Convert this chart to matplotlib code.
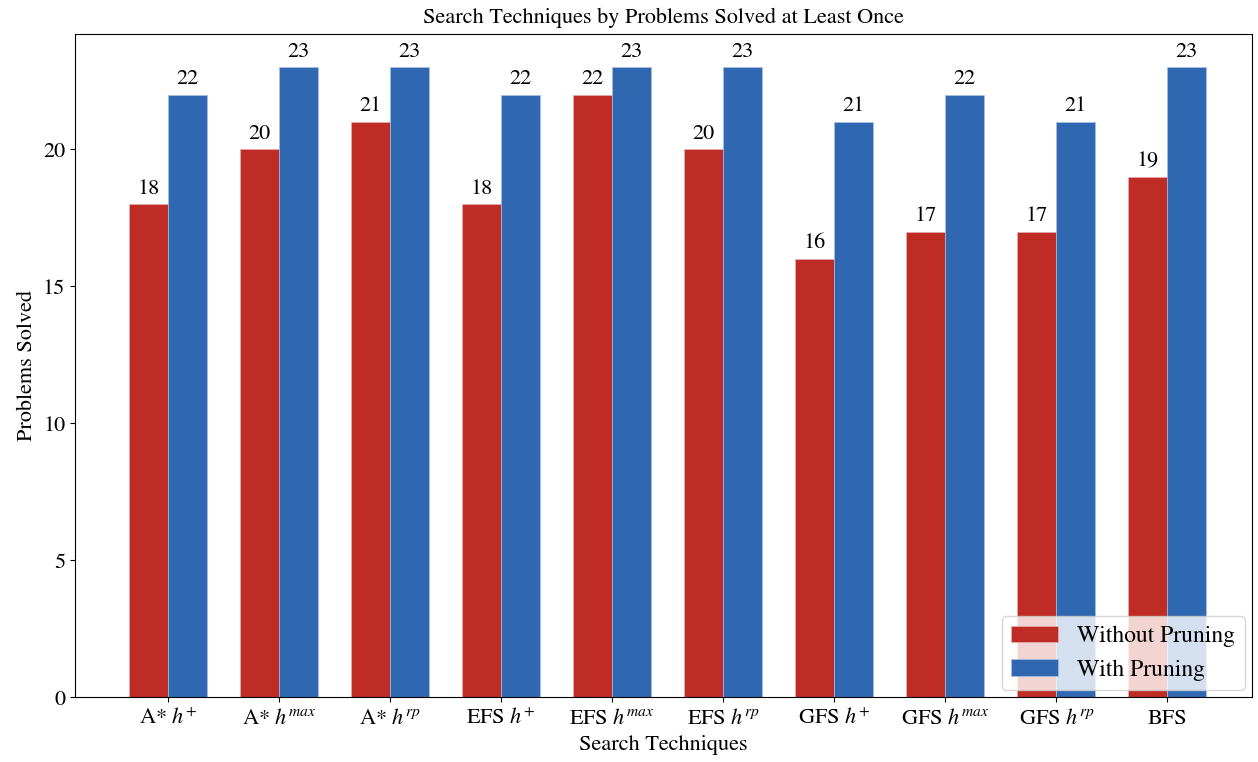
import matplotlib
matplotlib.use('Agg')
import matplotlib.pyplot as plt
import numpy as np

plt.rcParams['font.family'] = ['STIXGeneral', 'DejaVu Serif']
plt.rcParams['mathtext.fontset'] = 'stix'

techniques = ['A* $h^{+}$', 'A* $h^{max}$', 'A* $h^{rp}$',
              'EFS $h^{+}$', 'EFS $h^{max}$', 'EFS $h^{rp}$',
              'GFS $h^{+}$', 'GFS $h^{max}$', 'GFS $h^{rp}$', 'BFS']
without_pruning = [18, 20, 21, 18, 22, 20, 16, 17, 17, 19]
with_pruning = [22, 23, 23, 22, 23, 23, 21, 22, 21, 23]

red = '#bf2c25'
blue = '#2f68b1'

x = np.arange(len(techniques))
w = 0.35

fig, ax = plt.subplots(figsize=(12.58, 7.62), dpi=100)
fig.subplots_adjust(left=0.0596, right=0.995, top=0.955, bottom=0.085)

b1 = ax.bar(x - w / 2, without_pruning, w, color=red, edgecolor='#e8b0ac', linewidth=0.5, label='Without Pruning')
b2 = ax.bar(x + w / 2, with_pruning, w, color=blue, edgecolor='#a8c0e0', linewidth=0.5, label='With Pruning')
ax.bar_label(b1, padding=4, fontsize=16)
ax.bar_label(b2, padding=4, fontsize=16)

ax.set_xticks(x)
ax.set_xticklabels(techniques, fontsize=16)
ax.tick_params(axis='y', labelsize=16)
ax.tick_params(axis='x', pad=5)
ax.set_xlim(-0.84, 9.76)
ax.set_ylim(0, 24.2)
ax.set_yticks([0, 5, 10, 15, 20])
ax.set_xlabel('Search Techniques', fontsize=16, labelpad=4)
ax.set_ylabel('Problems Solved', fontsize=16)
ax.set_title('Search Techniques by Problems Solved at Least Once', fontsize=16, pad=8)
ax.legend(loc='lower right', fontsize=17, framealpha=0.8, borderaxespad=0.3)

fig.savefig('out.png', dpi=100)
